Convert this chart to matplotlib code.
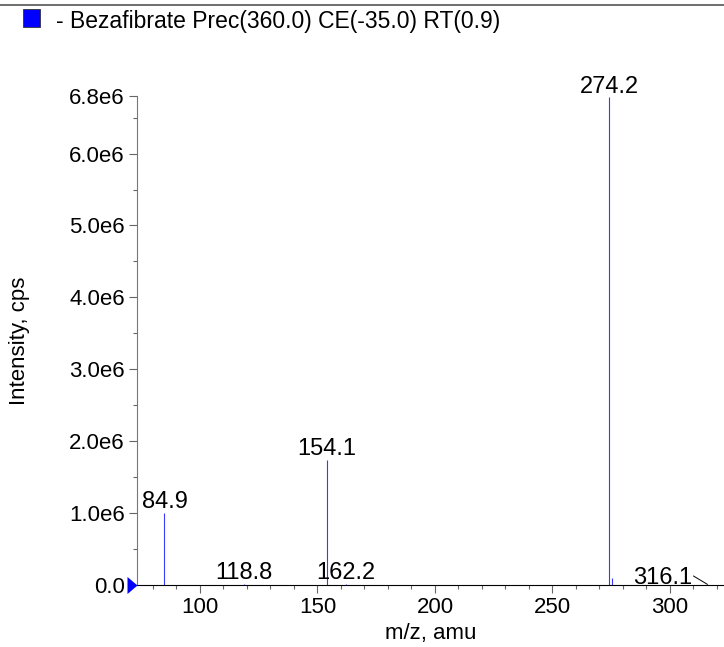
import numpy as np
import matplotlib.pyplot as plt
from matplotlib.path import Path
from matplotlib.ticker import MultipleLocator, FixedLocator

plt.rcParams['font.family'] = ['Liberation Sans', 'DejaVu Sans']

# peaks (m/z, intensity)
mz = [84.9, 118.8, 154.1, 162.2, 274.2, 275.3, 315.9]
intensity = [1.0e6, 0.01e6, 1.74e6, 0.01e6, 6.78e6, 0.1e6, 0.01e6]
labels = ["84.9", "118.8", "154.1", "162.2", "274.2", None, "316.1"]

yticks = [0.0, 1.0e6, 2.0e6, 3.0e6, 4.0e6, 5.0e6, 6.0e6, 6.8e6]
ytick_labels = ["0.0", "1.0e6", "2.0e6", "3.0e6", "4.0e6", "5.0e6", "6.0e6", "6.8e6"]

fig = plt.figure(figsize=(7.24, 6.47), dpi=100)
ax = fig.add_axes([0.1892, 0.0958, 0.8108, 0.7558])

ax.vlines(mz, 0, intensity, color="#3a3aff", linewidth=0.8)

for m, h, lab in zip(mz, intensity, labels):
    if lab is None:
        continue
    if lab == "316.1":
        # label off to the left, with a leader line
        ax.annotate(lab, xy=(m, h), xytext=(-32.5, 0), textcoords="offset points",
                    fontsize=17, ha="center", va="baseline")
        ax.annotate("", xy=(m, h), xytext=(-10, 6), textcoords="offset points",
                    arrowprops=dict(arrowstyle="-", color="black", lw=0.7,
                                    shrinkA=0, shrinkB=0))
    else:
        ax.annotate(lab, xy=(m, h), xytext=(0, 3.5), textcoords="offset points",
                    fontsize=17, ha="center", va="baseline")

ax.set_xlim(73.2, 323)
ax.set_ylim(0, 6.8e6)

ax.xaxis.set_major_locator(MultipleLocator(50))
ax.xaxis.set_minor_locator(MultipleLocator(10))
ax.yaxis.set_major_locator(FixedLocator(yticks))
ax.set_yticklabels(ytick_labels)
ax.yaxis.set_minor_locator(MultipleLocator(0.5e6))

ax.tick_params(axis="both", which="major", labelsize=16, length=5.8, width=0.8,
               color="#666666", pad=3)
ax.tick_params(axis="both", which="minor", length=2.9, width=0.8, color="#666666")

for s in ["top", "right"]:
    ax.spines[s].set_visible(False)
ax.spines["left"].set_color("#777777")
ax.spines["bottom"].set_color("black")

ax.set_xlabel("m/z, amu", fontsize=16)
ax.set_ylabel("Intensity, cps", fontsize=16)
ax.xaxis.set_label_coords(0.5, -0.078)
ax.yaxis.set_label_coords(-0.182, 0.5)

# blue marker sitting left of the y axis at zero
tri = Path([(-1.0, -0.85), (0.0, 0.0), (-1.0, 0.85), (-1.0, -0.85)],
           [Path.MOVETO, Path.LINETO, Path.LINETO, Path.CLOSEPOLY])
ax.plot([73.2], [0], marker=tri, color="blue", markersize=14.4, clip_on=False,
        markeredgewidth=0, zorder=5)

# header line and legend
fig.add_artist(plt.Line2D([0, 1], [0.992, 0.992], color="#555555", lw=1.2))
fig.add_artist(plt.Rectangle((0.0318, 0.9583), 0.0235, 0.0278, facecolor="blue",
                             edgecolor="#333333", lw=0.6,
                             transform=fig.transFigure))
fig.text(0.0773, 0.9567, "- Bezafibrate Prec(360.0) CE(-35.0) RT(0.9)",
         fontsize=16.5, va="baseline")

fig.savefig("out.png", dpi=100)
